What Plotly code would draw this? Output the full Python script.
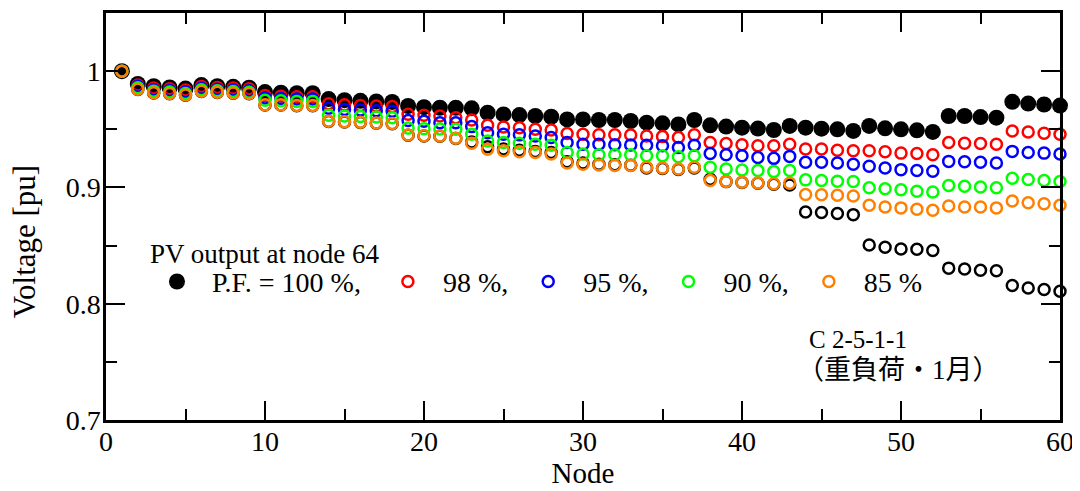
import plotly.graph_objects as go

nodes = list(range(1, 61))

pf100 = [1.000, 0.989, 0.987, 0.986, 0.985, 0.988, 0.987, 0.9865, 0.9858, 0.982,
         0.9815, 0.981, 0.981, 0.976, 0.975, 0.9745, 0.974, 0.9735, 0.970, 0.969,
         0.9685, 0.9685, 0.968, 0.9642, 0.9628, 0.9622, 0.9614, 0.9608, 0.9585, 0.9585,
         0.958, 0.958, 0.9571, 0.9557, 0.9551, 0.9542, 0.958, 0.9534, 0.9523, 0.9514,
         0.9506, 0.9494, 0.9529, 0.9514, 0.9505, 0.950, 0.9486, 0.9529, 0.9508, 0.950,
         0.9491, 0.9477, 0.9614, 0.9614, 0.9605, 0.960, 0.9736, 0.9721, 0.9713, 0.9704]

pf98 = [1.000, 0.988, 0.9855, 0.9848, 0.9838, 0.9868, 0.986, 0.9854, 0.9848, 0.979,
        0.9785, 0.978, 0.978, 0.972, 0.971, 0.9705, 0.970, 0.9695, 0.963, 0.962,
        0.9614, 0.960, 0.958, 0.9534, 0.952, 0.9514, 0.950, 0.9494, 0.9463, 0.9457,
        0.9452, 0.9452, 0.945, 0.9443, 0.9437, 0.9429, 0.9452, 0.9386, 0.9378, 0.9367,
        0.9358, 0.9358, 0.9372, 0.933, 0.933, 0.932, 0.9315, 0.9315, 0.9307, 0.9295,
        0.9292, 0.9281, 0.9386, 0.938, 0.9378, 0.9372, 0.9486, 0.9477, 0.9466, 0.9457]

pf95 = [1.000, 0.987, 0.984, 0.9833, 0.9822, 0.9853, 0.9845, 0.9838, 0.9832, 0.977,
        0.9765, 0.976, 0.976, 0.968, 0.967, 0.9665, 0.966, 0.9655, 0.9575, 0.957,
        0.9557, 0.9557, 0.9523, 0.9471, 0.9457, 0.9452, 0.9443, 0.9429, 0.9386, 0.9372,
        0.9372, 0.9367, 0.9365, 0.9363, 0.9358, 0.9344, 0.9363, 0.9292, 0.9281, 0.9273,
        0.9258, 0.925, 0.9267, 0.9216, 0.9216, 0.921, 0.920, 0.9182, 0.9167, 0.9153,
        0.9145, 0.9139, 0.9224, 0.9221, 0.9216, 0.921, 0.931, 0.930, 0.9295, 0.9287]

pf90 = [1.000, 0.9857, 0.9828, 0.982, 0.9808, 0.984, 0.9832, 0.9825, 0.9818, 0.975,
        0.9745, 0.974, 0.974, 0.962, 0.9614, 0.961, 0.9605, 0.960, 0.951, 0.9505,
        0.9503, 0.950, 0.9457, 0.940, 0.9386, 0.938, 0.9372, 0.9363, 0.930, 0.9287,
        0.9281, 0.9281, 0.928, 0.9273, 0.9273, 0.9264, 0.9273, 0.9173, 0.9159, 0.915,
        0.9145, 0.9136, 0.9145, 0.9065, 0.906, 0.9054, 0.9051, 0.8997, 0.8988, 0.898,
        0.8968, 0.896, 0.9017, 0.9011, 0.9003, 0.8997, 0.9079, 0.9068, 0.906, 0.9051]

pf85 = [1.000, 0.9844, 0.9815, 0.9807, 0.9795, 0.9827, 0.9818, 0.9812, 0.9807, 0.971,
        0.971, 0.9705, 0.9705, 0.957, 0.9565, 0.956, 0.9555, 0.955, 0.945, 0.9445,
        0.9443, 0.9423, 0.938, 0.9329, 0.9315, 0.9307, 0.930, 0.9287, 0.921, 0.920,
        0.9193, 0.9188, 0.9188, 0.9173, 0.9167, 0.9159, 0.9173, 0.906, 0.9051, 0.9045,
        0.9039, 0.9031, 0.9037, 0.894, 0.8937, 0.8932, 0.8926, 0.8846, 0.8832, 0.8824,
        0.8812, 0.8804, 0.884, 0.8832, 0.8832, 0.8824, 0.8883, 0.8869, 0.886, 0.8846]

no_pv = [1.000, 0.9842, 0.9813, 0.9805, 0.9793, 0.9825, 0.9816, 0.981, 0.9805, 0.9708,
         0.9708, 0.9703, 0.9703, 0.9568, 0.9563, 0.9558, 0.9553, 0.9548, 0.9448, 0.9443,
         0.944, 0.942, 0.939, 0.935, 0.933, 0.932, 0.931, 0.930, 0.922, 0.921,
         0.920, 0.9195, 0.919, 0.9168, 0.9162, 0.9155, 0.9168, 0.907, 0.905, 0.9043,
         0.9036, 0.9028, 0.902, 0.8789, 0.8784, 0.8775, 0.8766, 0.8505, 0.8485, 0.8471,
         0.8468, 0.8457, 0.8306, 0.8298, 0.8287, 0.8284, 0.8156, 0.8136, 0.8122, 0.8107]

legend_title = "PV output at node 64"
legend_labels = ["P.F. = 100 %,\u00a0", "98 %,", "95 %,", "90 %,", "85 %"]
x_ticks = [0, 10, 20, 30, 40, 50, 60]
y_ticks = [0.7, 0.8, 0.9, 1.0]
y_tick_text = ["0.7", "0.8", "0.9", "1"]

FONT = "Liberation Serif, Times New Roman, serif"
CJK = "Liberation Serif, Noto Sans CJK JP, serif"

fig = go.Figure()

fig.add_trace(go.Scatter(x=nodes, y=no_pv, mode="markers", showlegend=False, cliponaxis=False,
                         marker=dict(symbol="circle-open", size=11, color="black",
                                     line=dict(width=2.5, color="black"))))
fig.add_trace(go.Scatter(x=nodes, y=pf100, mode="markers", name=legend_labels[0], cliponaxis=False,
                         marker=dict(symbol="circle", size=16, color="black")))
for vals, lab, col in [(pf98, legend_labels[1], "#ff0000"),
                       (pf95, legend_labels[2], "#0000ff"),
                       (pf90, legend_labels[3], "#00ff00"),
                       (pf85, legend_labels[4], "#ff8000")]:
    fig.add_trace(go.Scatter(x=nodes, y=vals, mode="markers", name=lab, cliponaxis=False,
                             marker=dict(symbol="circle-open", size=11, color=col,
                                         line=dict(width=2.5, color=col))))

axis_common = dict(showgrid=False, zeroline=False, showline=True, linecolor="black",
                   linewidth=2.5, mirror="ticks", ticks="inside", ticklen=19,
                   tickwidth=2, tickcolor="black", layer="above traces",
                   ticklabeloverflow="allow",
                   tickfont=dict(family=FONT, size=28, color="black"))

fig.update_xaxes(range=[0, 60], tickvals=x_ticks, ticklabelstandoff=-5,
                 minor=dict(dtick=5, tick0=0, ticks="inside", ticklen=11, tickwidth=2,
                            tickcolor="black"),
                 title=dict(text="Node", font=dict(family=FONT, size=29, color="black"),
                            standoff=1),
                 **axis_common)
fig.update_yaxes(range=[0.7, 1.05], tickvals=y_ticks, ticktext=y_tick_text,
                 ticklabelstandoff=-3,
                 minor=dict(dtick=0.05, tick0=0.7, ticks="inside", ticklen=11, tickwidth=2,
                            tickcolor="black"),
                 **axis_common)

fig.update_layout(
    width=1072, height=483,
    margin=dict(l=98, r=20, t=2, b=71),
    paper_bgcolor="white", plot_bgcolor="white",
    font=dict(family=FONT, size=28, color="black"),
    legend=dict(orientation="h", x=0.0377, y=0.401, xanchor="left", yanchor="top",
                bgcolor="rgba(0,0,0,0)", itemwidth=60, tracegroupgap=0,
                font=dict(family=FONT, size=28, color="black")),
    annotations=[
        dict(text=legend_title, xref="paper", yref="paper", x=0.044, y=0.407,
             xanchor="left", yanchor="middle", showarrow=False,
             font=dict(family=FONT, size=27, color="black")),
        dict(text="Voltage [pu]", xref="paper", yref="paper", x=-0.0855, y=0.44,
             xanchor="center", yanchor="middle", showarrow=False, textangle=-90,
             font=dict(family=FONT, size=31, color="black")),
        dict(text="C 2-5-1-1", xref="paper", yref="paper", x=0.735, y=0.198,
             xanchor="left", yanchor="middle", showarrow=False,
             font=dict(family=FONT, size=25, color="black")),
        dict(text="（重負荷・1月）", xref="paper", yref="paper", x=0.7224, y=0.124,
             xanchor="left", yanchor="middle", showarrow=False,
             font=dict(family=CJK, size=27, color="black")),
    ],
)

fig.write_html("out.html")
